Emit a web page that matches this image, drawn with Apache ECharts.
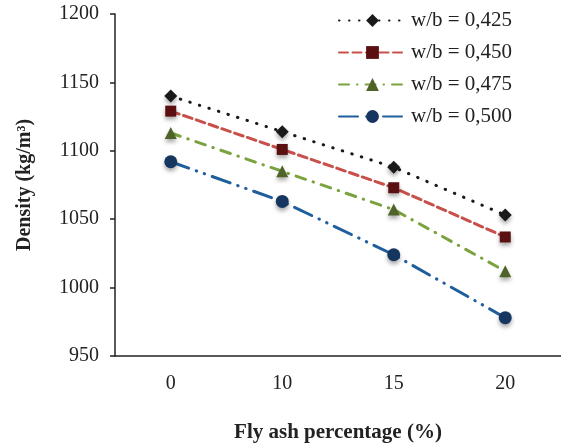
<!DOCTYPE html>
<html>
<head>
<meta charset="utf-8">
<script src="https://cdn.jsdelivr.net/npm/echarts@6/dist/echarts.min.js"></script>
<style>html,body{margin:0;padding:0;background:#fff}#c{width:561px;height:448px}</style>
</head>
<body>
<div id="c"></div>
<script>
const categories = ['0', '10', '15', '20'];
const seriesNames = ['w/b = 0,425', 'w/b = 0,450', 'w/b = 0,475', 'w/b = 0,500'];
const wb0425 = [1140, 1114, 1088, 1053];
const wb0450 = [1129, 1101, 1073, 1037];
const wb0475 = [1113, 1085, 1057, 1012];
const wb0500 = [1092, 1063, 1024, 978];
const yTicks = [950, 1000, 1050, 1100, 1150, 1200];

const FONT = 'Liberation Serif';
const shadow = {shadowColor: 'rgba(0,0,0,0.35)', shadowBlur: 4, shadowOffsetY: 3};

function mk(name, data, lineColor, lineType, markColor, symbol, size) {
  return {
    name: name, type: 'line', data: data,
    symbol: symbol, symbolSize: size,
    lineStyle: {color: lineColor, width: 3, type: lineType, cap: 'round'},
    itemStyle: Object.assign({color: markColor, borderWidth: 0}, shadow),
    emphasis: {disabled: true}
  };
}

const chart = echarts.init(document.getElementById('c'), null, {renderer: 'canvas'});
chart.setOption({
  animation: false,
  backgroundColor: '#fff',
  grid: {left: 115, top: 14, width: 452, height: 347, containLabel: false},
  legend: {
    orient: 'vertical', left: 333, top: 5,
    itemWidth: 67, itemHeight: 16, itemGap: 11,
    textStyle: {fontFamily: FONT, fontSize: 21, color: '#222'},
    data: seriesNames
  },
  xAxis: {
    type: 'category', data: categories, boundaryGap: true,
    name: 'Fly ash percentage (%)', nameLocation: 'middle', nameGap: 66,
    nameTextStyle: {fontFamily: FONT, fontSize: 21, fontWeight: 'bold', color: '#222'},
    axisLine: {lineStyle: {color: '#222', width: 1.5}},
    axisTick: {alignWithLabel: true, length: 5, lineStyle: {color: '#222', width: 1.5}},
    axisLabel: {fontFamily: FONT, fontSize: 20, color: '#222', margin: 18}
  },
  yAxis: {
    type: 'value', min: yTicks[0], max: yTicks[yTicks.length - 1], interval: 50,
    name: 'Density (kg/m³)', nameLocation: 'middle', nameGap: 80,
    nameTextStyle: {fontFamily: FONT, fontSize: 20, fontWeight: 'bold', color: '#222'},
    axisLine: {show: true, lineStyle: {color: '#222', width: 1.5}},
    axisTick: {show: true, length: 5, lineStyle: {color: '#222', width: 1.5}},
    splitLine: {show: false},
    axisLabel: {fontFamily: FONT, fontSize: 20, color: '#222', margin: 16,
      formatter: function (v) { return String(v); }}
  },
  series: [
    mk(seriesNames[0], wb0425, '#1a1a1a', [0.5, 9.5], '#1a1a1a', 'diamond', 13),
    mk(seriesNames[1], wb0450, '#c8504b', [9, 4.5], '#5a1010', 'rect', 11),
    mk(seriesNames[2], wb0475, '#7aa23e', [10, 8, 0.5, 8], '#4f6228', 'triangle', 12),
    mk(seriesNames[3], wb0500, '#1f5e9c', [19, 8, 0.5, 8, 0.5, 8], '#15365e', 'circle', 13)
  ]
});
</script>
</body>
</html>
